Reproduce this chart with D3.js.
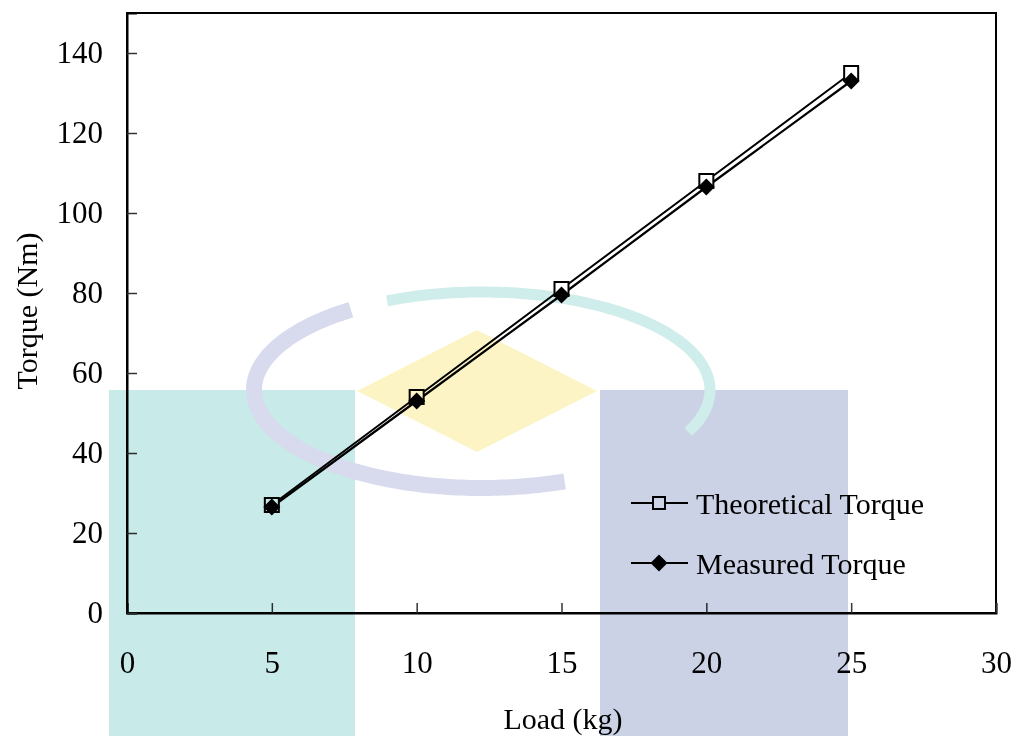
<!DOCTYPE html>
<html>
<head>
<meta charset="utf-8">
<script src="https://cdn.jsdelivr.net/npm/d3@7"></script>
<style>
  body { margin: 0; background: #fff; }
  svg { display: block; font-family: "Liberation Serif", "Times New Roman", serif; }
</style>
</head>
<body>
<div id="chart"></div>
<script>
// data
const loads = [5, 10, 15, 20, 25];
const theoretical = [27, 54, 81, 108, 135];
const measured = [26.5, 53, 79.5, 106.5, 133];
const xTicks = [0, 5, 10, 15, 20, 25, 30];
const yTicks = [0, 20, 40, 60, 80, 100, 120, 140];
const seriesNames = ["Theoretical Torque", "Measured Torque"];

const width = 1014, height = 736;
const margin = { top: 13, right: 18, bottom: 123, left: 127 };
const innerW = width - margin.left - margin.right;
const innerH = height - margin.top - margin.bottom;

const svg = d3.select("#chart").append("svg")
  .attr("width", width).attr("height", height);

const g = svg.append("g")
  .attr("transform", `translate(${margin.left},${margin.top})`);

const x = d3.scaleLinear().domain([0, 30]).range([0, innerW]);
const y = d3.scaleLinear().domain([0, 150]).range([innerH, 0]);

// plot frame
g.append("rect")
  .attr("width", innerW).attr("height", innerH)
  .attr("fill", "none").attr("stroke", "#000").attr("stroke-width", 2);

// axes with inward ticks
const xAxis = g.append("g")
  .attr("transform", `translate(0,${innerH})`)
  .call(d3.axisBottom(x).tickValues(xTicks).tickSize(-10).tickPadding(38).tickFormat(d3.format("d")));
const yAxis = g.append("g")
  .call(d3.axisLeft(y).tickValues(yTicks).tickSize(-10).tickPadding(24).tickFormat(d3.format("d")));

[xAxis, yAxis].forEach(a => {
  a.select(".domain").attr("stroke", "#000").attr("stroke-width", 2);
  a.selectAll(".tick line").attr("stroke", "#333").attr("stroke-width", 1.5);
  a.selectAll(".tick text")
    .attr("fill", "#000")
    .style("font-family", "Liberation Serif")
    .style("font-size", "31px");
});

// axis titles
svg.append("text")
  .attr("x", 563).attr("y", 729)
  .attr("text-anchor", "middle")
  .style("font-size", "30px")
  .text("Load (kg)");
svg.append("text")
  .attr("transform", `translate(37,311) rotate(-90)`)
  .attr("text-anchor", "middle")
  .style("font-size", "30px")
  .text("Torque (Nm)");

// lines
const line = d3.line().x(d => x(d[0])).y(d => y(d[1]));
const thData = loads.map((l, i) => [l, theoretical[i]]);
const meData = loads.map((l, i) => [l, measured[i]]);

g.append("path").datum(thData).attr("d", line)
  .attr("fill", "none").attr("stroke", "#000").attr("stroke-width", 2);
g.append("path").datum(meData).attr("d", line)
  .attr("fill", "none").attr("stroke", "#000").attr("stroke-width", 2.2);

const square = d3.symbol().type(d3.symbolSquare).size(196);
const diamondPath = r => `M0,${-r}L${r},0L0,${r}L${-r},0Z`;

g.selectAll(".sq").data(thData).join("path")
  .attr("class", "sq")
  .attr("transform", d => `translate(${x(d[0])},${y(d[1])})`)
  .attr("d", square)
  .attr("fill", "#fff").attr("stroke", "#000").attr("stroke-width", 2);
g.selectAll(".dm").data(meData).join("path")
  .attr("class", "dm")
  .attr("transform", d => `translate(${x(d[0])},${y(d[1])})`)
  .attr("d", diamondPath(8.5))
  .attr("fill", "#000");

// legend
const legend = svg.append("g").attr("transform", "translate(631,503)");
seriesNames.forEach((name, i) => {
  const row = legend.append("g").attr("transform", `translate(0,${i * 60})`);
  row.append("line").attr("x1", 0).attr("x2", 57)
    .attr("stroke", "#000").attr("stroke-width", 2);
  row.append("path")
    .attr("transform", "translate(28,0)")
    .attr("d", i === 0 ? d3.symbol().type(d3.symbolSquare).size(144)() : diamondPath(8.5))
    .attr("fill", i === 0 ? "#fff" : "#000")
    .attr("stroke", i === 0 ? "#000" : "none")
    .attr("stroke-width", 2);
  row.append("text")
    .attr("x", 65).attr("dy", "0.35em")
    .style("font-size", "30px")
    .text(name);
});

// faint logo watermark, laid over everything with multiply
const wm = svg.append("g").style("mix-blend-mode", "multiply").style("opacity", 0.95);
wm.append("rect").attr("x", 109).attr("y", 390).attr("width", 246).attr("height", 346).attr("fill", "#c5e9e8");
wm.append("rect").attr("x", 600).attr("y", 390).attr("width", 248).attr("height", 346).attr("fill", "#c9d0e5");
wm.append("path")
  .attr("d", "M357,391 L477,330 L597,391 L477,452 Z")
  .attr("fill", "#fdf4c2");
// ring: teal upper/right arc, lavender lower/left arc
const cx = 482, cy = 390, rx = 228, ry = 98;
const arcPath = (a0, a1) => {
  const pts = d3.range(a0, a1 + 0.01, 0.02).map(a => [cx + rx * Math.cos(a), cy + ry * Math.sin(a)]);
  return d3.line()(pts);
};
wm.append("path").attr("d", arcPath(-2.0, 0.45))
  .attr("fill", "none").attr("stroke", "#cdecea").attr("stroke-width", 11);
wm.append("path").attr("d", arcPath(1.2, 4.1))
  .attr("fill", "none").attr("stroke", "#d6d9ee").attr("stroke-width", 16);
</script>
</body>
</html>
